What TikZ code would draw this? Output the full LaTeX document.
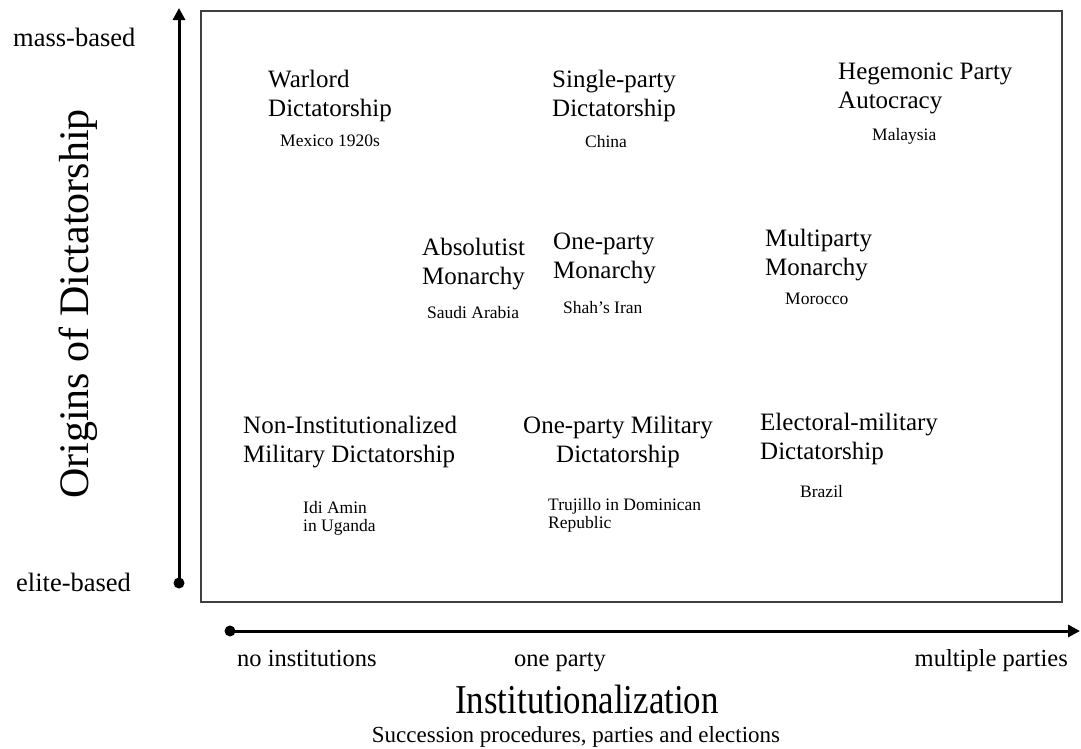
\documentclass[tikz,border=0pt]{standalone}
\usepackage{fontspec}
\setmainfont{Liberation Serif}
\usetikzlibrary{arrows.meta}
\begin{document}
\begin{tikzpicture}[x=1pt,y=-1pt,
  lbl/.style={inner sep=0pt, anchor=north west, align=left, font=\fontsize{25}{28.5}\selectfont},
  lblc/.style={lbl, anchor=north, align=center},
  ex/.style={inner sep=0pt, anchor=north west, align=left, font=\fontsize{17.5}{18.5}\selectfont},
  sidelbl/.style={inner sep=0pt, anchor=base west, font=\fontsize{26.5}{28}\selectfont},
  botlbl/.style={inner sep=0pt, font=\fontsize{24.5}{26}\selectfont},
  axisline/.style={line width=3pt, -{Triangle[length=12pt,width=12pt]}},
  enddot/.style={fill=black},
  frame/.style={line width=1.6pt, draw=black!75}
]
\useasboundingbox (0,0) rectangle (1081,748);

% frame
\draw[frame] (201,11) rectangle (1062,602);

% vertical axis
\coordinate (ytop) at (179,8);
\coordinate (ybot) at (179,583);
\draw[axisline] (ybot) -- (ytop);
\fill[enddot] (ybot) circle (5.5);

% horizontal axis
\coordinate (xleft) at (230,631);
\coordinate (xright) at (1080,631);
\draw[axisline] (xleft) -- (xright);
\fill[enddot] (xleft) circle (5.5);

% side labels
\node[sidelbl] (mass) at (13,46) {mass-based};
\node[sidelbl] (elite) at (16,591) {elite-based};
\node[inner sep=0pt, rotate=90, font=\fontsize{42}{44}\selectfont] (origins) at (78,304) {Origins of Dictatorship};

% bottom labels
\node[botlbl, anchor=base west] (noinst) at (237,666) {no institutions};
\node[botlbl, anchor=base] (oneparty) at (560,666) {one party};
\node[botlbl, anchor=base east] (multi) at (1068,666) {multiple parties};
\node[inner sep=0pt, anchor=base] (inst) at (587,713) {\scalebox{0.85}[1]{\fontsize{41}{41}\selectfont Institutionalization}};
\node[inner sep=0pt, anchor=base, font=\fontsize{23}{26}\selectfont] (succ) at (576,742) {Succession procedures, parties and elections};

% regime types
\node[lbl] (warlord) at (268,70) {Warlord\\Dictatorship};
\node[ex] (mexico) at (280,135) {Mexico 1920s};

\node[lbl] (single) at (552,70) {Single-party\\Dictatorship};
\node[ex] (china) at (585,135) {China};

\node[lbl] (hegemonic) at (838,63) {Hegemonic Party\\Autocracy};
\node[ex] (malaysia) at (872,128) {Malaysia};

\node[lbl] (absolutist) at (422,238) {Absolutist\\Monarchy};
\node[ex] (saudi) at (427,306) {Saudi Arabia};

\node[lbl] (onepartymon) at (553,233) {One-party\\Monarchy};
\node[ex] (iran) at (563,301) {Shah's Iran};

\node[lbl] (multimon) at (765,229) {Multiparty\\Monarchy};
\node[ex] (morocco) at (785,293) {Morocco};

\node[lbl] (noninst) at (243,416) {Non-Institutionalized\\Military Dictatorship};
\node[ex] (amin) at (303,501) {Idi Amin\\in Uganda};

\node[lblc] (onepartymil) at (618,416) {One-party Military\\Dictatorship};
\node[ex] (trujillo) at (548,498) {Trujillo in Dominican\\Republic};

\node[lbl] (electoral) at (760,413) {Electoral-military\\Dictatorship};
\node[ex] (brazil) at (800,485) {Brazil};
\end{tikzpicture}
\end{document}
